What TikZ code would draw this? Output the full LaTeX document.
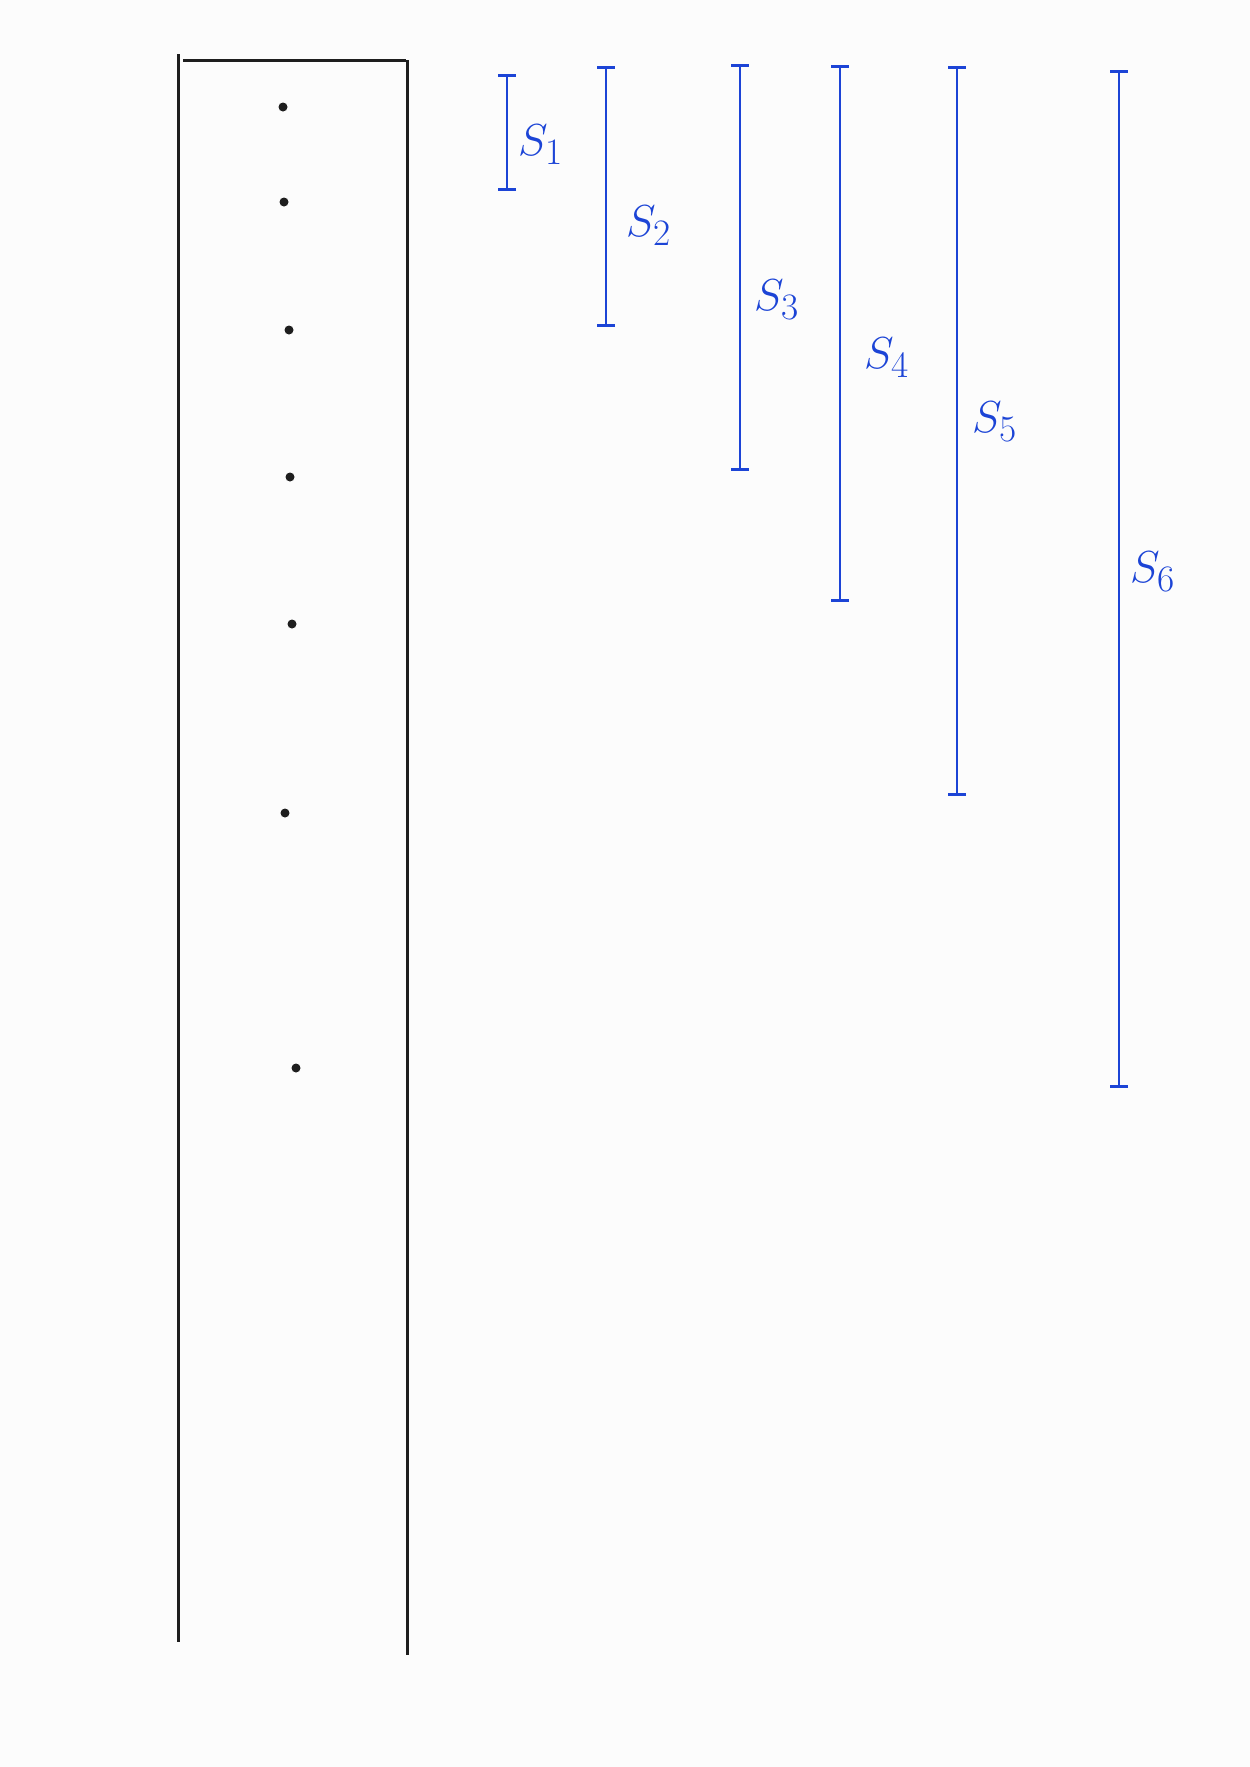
\documentclass[tikz,border=0pt]{standalone}
\usetikzlibrary{arrows.meta}
\definecolor{penblue}{RGB}{28,68,214}
\definecolor{penblack}{RGB}{30,30,30}
\definecolor{paper}{RGB}{252,252,252}
\newcommand{\spantext}[1]{\scalebox{1.8}{\Huge$S_{#1}$}}
\begin{document}
\begin{tikzpicture}[x=1pt,y=-1pt,
  wall/.style={draw=penblack,line width=3pt},
  dotmark/.style={fill=penblack,circle,inner sep=0pt,minimum size=9pt},
  span/.style={draw=penblue,line width=2.8pt,{Bar[width=18pt,line width=2.8pt]}-{Bar[width=18pt,line width=2.8pt]}},
  spanlabel/.style={text=penblue,anchor=west,inner sep=0pt}]
\fill[paper] (0,0) rectangle (1250,1767);
\useasboundingbox (0,0) rectangle (1250,1767);
% container
\coordinate (lt) at (178,54);
\coordinate (lb) at (178,1642);
\coordinate (tl) at (183,60);
\coordinate (tr) at (406,60);
\coordinate (rt) at (407,60);
\coordinate (rb) at (407,1655);
\draw[wall] (lt) -- (lb);
\draw[wall] (tl) -- (tr);
\draw[wall] (rt) -- (rb);
% dots
\node[dotmark] (d1) at (283,107) {};
\node[dotmark] (d2) at (284,202) {};
\node[dotmark] (d3) at (289,330) {};
\node[dotmark] (d4) at (290,477) {};
\node[dotmark] (d5) at (292,624) {};
\node[dotmark] (d6) at (285,813) {};
\node[dotmark] (d7) at (296,1068) {};
% spans
\coordinate (s1t) at (507,74);  \coordinate (s1b) at (507,191);
\coordinate (s2t) at (606,66);  \coordinate (s2b) at (606,327);
\coordinate (s3t) at (740,64);  \coordinate (s3b) at (740,471);
\coordinate (s4t) at (840,65);  \coordinate (s4b) at (840,602);
\coordinate (s5t) at (957,66);  \coordinate (s5b) at (957,796);
\coordinate (s6t) at (1119,70); \coordinate (s6b) at (1119,1088);
\draw[span] (s1t) -- (s1b);
\draw[span] (s2t) -- (s2b);
\draw[span] (s3t) -- (s3b);
\draw[span] (s4t) -- (s4b);
\draw[span] (s5t) -- (s5b);
\draw[span] (s6t) -- (s6b);
\node[spanlabel] (l1) at (518,145) {\spantext{1}};
\node[spanlabel] (l2) at (626,226) {\spantext{2}};
\node[spanlabel] (l3) at (754,300) {\spantext{3}};
\node[spanlabel] (l4) at (864,358) {\spantext{4}};
\node[spanlabel] (l5) at (972,422) {\spantext{5}};
\node[spanlabel] (l6) at (1130,572) {\spantext{6}};
\end{tikzpicture}
\end{document}
